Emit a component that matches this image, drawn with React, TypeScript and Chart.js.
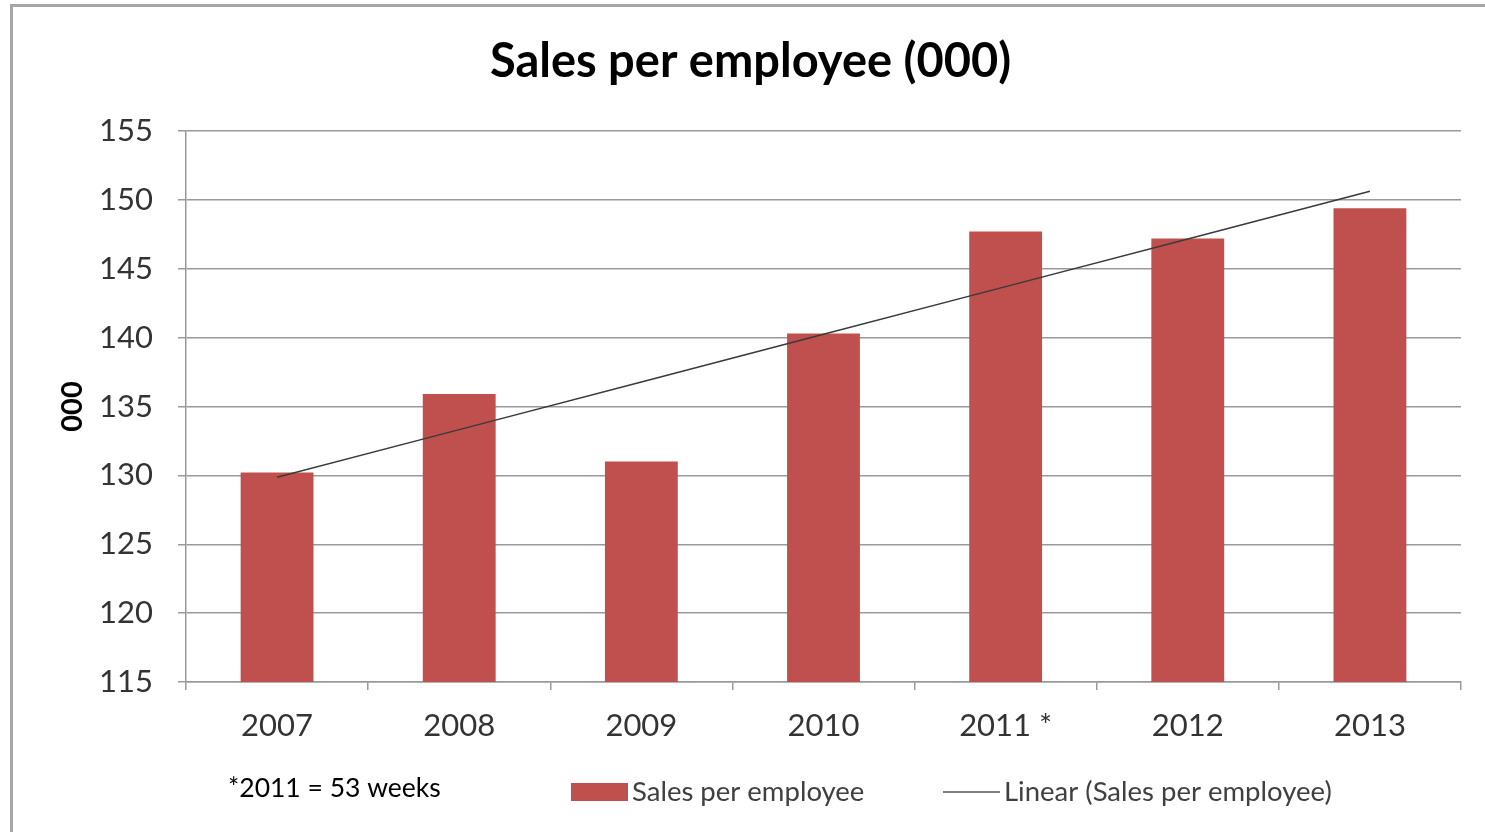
import React, { useEffect, useRef } from "react";
import { Chart, registerables } from "chart.js";

Chart.register(...registerables);

const categories = ["2007", "2008", "2009", "2010", "2011 *", "2012", "2013"];
const salesPerEmployee = [130.2, 135.9, 131.0, 140.3, 147.7, 147.2, 149.4];
const yMin = 115;
const yMax = 155;
const yStep = 5;
const chartTitle = "Sales per employee (000)";
const yAxisTitle = "000";
const footnoteText = "*2011 = 53 weeks";
const barLabel = "Sales per employee";
const trendLabel = "Linear (Sales per employee)";

const BAR_COLOR = "#C0504D";
const TREND_COLOR = "#3a3a3a";
const GRID_COLOR = "#9a9a9a";
const TEXT_COLOR = "#333333";
const FONT = "Lato, 'Open Sans', sans-serif";

// Least-squares linear trendline (what Excel's "Linear" trendline shows)
function linearTrend(values: number[]): number[] {
  const n = values.length;
  const mx = (n - 1) / 2;
  const my = values.reduce((a, b) => a + b, 0) / n;
  let num = 0;
  let den = 0;
  values.forEach((v, i) => {
    num += (i - mx) * (v - my);
    den += (i - mx) * (i - mx);
  });
  const slope = num / den;
  return values.map((_, i) => my + slope * (i - mx));
}

const legendFootnotePlugin = {
  id: "legendFootnote",
  afterDraw(chart: any) {
    const ctx = chart.ctx;
    ctx.save();
    const y = 792;
    // footnote
    ctx.font = `26.5px ${FONT}`;
    ctx.fillStyle = "#000000";
    ctx.textBaseline = "middle";
    ctx.textAlign = "left";
    ctx.fillText(footnoteText, 228, 788);

    const ds = chart.data.datasets;
    // bar legend item
    ctx.fillStyle = ds[0].backgroundColor;
    ctx.fillRect(571, 783, 57, 18);
    ctx.fillStyle = "#404040";
    ctx.font = `27.5px ${FONT}`;
    ctx.fillText(ds[0].label, 632, y);
    // trend legend item
    ctx.strokeStyle = "#555555";
    ctx.lineWidth = 1.5;
    ctx.beginPath();
    ctx.moveTo(943, y);
    ctx.lineTo(1000, y);
    ctx.stroke();
    ctx.fillText(ds[1].label, 1004, y);
    ctx.restore();
  },
};

export default function App() {
  const canvasRef = useRef<HTMLCanvasElement | null>(null);

  useEffect(() => {
    const canvas = canvasRef.current;
    if (!canvas) return;
    const trend = linearTrend(salesPerEmployee);
    const chart = new Chart(canvas, {
      type: "bar",
      data: {
        labels: categories,
        datasets: [
          {
            type: "bar",
            label: barLabel,
            data: salesPerEmployee,
            backgroundColor: BAR_COLOR,
            borderWidth: 0,
            barPercentage: 0.4,
            categoryPercentage: 1.0,
            order: 2,
          },
          {
            type: "line",
            label: trendLabel,
            data: trend,
            borderColor: TREND_COLOR,
            borderWidth: 1.5,
            pointRadius: 0,
            fill: false,
            tension: 0,
            order: 1,
          } as any,
        ],
      },
      options: {
        responsive: false,
        animation: false,
        devicePixelRatio: 1,
        layout: { padding: { left: 40, right: 24, top: 0, bottom: 90 } },
        plugins: {
          legend: { display: false },
          tooltip: { enabled: false },
          title: {
            display: true,
            text: chartTitle,
            color: "#000000",
            font: { family: FONT, size: 47, weight: "bold", lineHeight: 1.2 },
            padding: { top: 34, bottom: 40.6 },
          },
        },
        scales: {
          x: {
            grid: {
              display: true,
              drawOnChartArea: false,
              drawTicks: true,
              tickLength: 8,
              offset: true,
              color: GRID_COLOR,
              lineWidth: 1.5,
            },
            border: { display: true, color: GRID_COLOR, width: 1.5 },
            ticks: {
              color: TEXT_COLOR,
              font: { family: FONT, size: 31 },
              padding: 17,
              maxRotation: 0,
            },
            afterFit(scale: any) {
              scale.height = 60;
            },
          },
          y: {
            min: yMin,
            max: yMax,
            ticks: {
              stepSize: yStep,
              color: TEXT_COLOR,
              font: { family: FONT, size: 31 },
              padding: 25,
            },
            grid: {
              color: GRID_COLOR,
              lineWidth: 1.5,
              tickLength: 8,
              drawTicks: true,
            },
            border: { display: true, color: GRID_COLOR, width: 1.5 },
            title: {
              display: true,
              text: yAxisTitle,
              color: "#000000",
              font: { family: FONT, size: 29, weight: "bold" },
              padding: { top: 15, bottom: 0 },
            },
            afterFit(scale: any) {
              scale.width = 146;
            },
          },
        },
      },
      plugins: [legendFootnotePlugin],
    });
    return () => chart.destroy();
  }, []);

  return (
    <div
      style={{
        position: "fixed",
        left: 0,
        top: 0,
        width: 1485,
        height: 832,
        overflow: "hidden",
        background: "#ffffff",
      }}
    >
      <div
        style={{
          position: "absolute",
          left: 10,
          top: 4,
          width: 1600,
          height: 1000,
          borderLeft: "3px solid #a6a6a6",
          borderTop: "3px solid #a6a6a6",
        }}
      />
      <canvas
        ref={canvasRef}
        width={1485}
        height={832}
        style={{ position: "absolute", left: 0, top: 0, width: 1485, height: 832 }}
      />
    </div>
  );
}
